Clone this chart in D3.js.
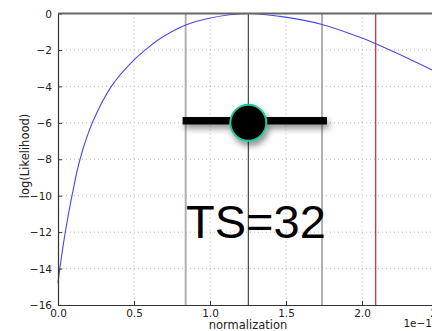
<!DOCTYPE html>
<html><head><meta charset="utf-8">
<script src="https://cdn.jsdelivr.net/npm/d3@7"></script>
<style>body{margin:0;background:#fff;}svg{display:block;}</style>
</head><body>
<script>
// Data
const normValues = [0, 0.012, 0.048, 0.092, 0.145, 0.226, 0.351, 0.5, 0.575, 0.658, 0.84, 0.987, 1.25, 1.46, 1.737, 2.0, 2.09, 2.3, 2.5];
const logLValues = [-14.8, -14, -12, -10, -8, -6, -4, -2.55, -2, -1.45, -0.63, -0.27, 0, -0.16, -0.6, -1.35, -1.66, -2.45, -3.25];
const xTicks = [0, 0.5, 1.0, 1.5, 2.0, 2.5];
const xTickLabels = ["0.0", "0.5", "1.0", "1.5", "2.0", "2.5"];
const yTicks = [0, -2, -4, -6, -8, -10, -12, -14, -16];
const bestFit = [1.252];
const sigmaLines = [0.84, 1.737];
const upperLimit = [2.09];
const pointX = [1.252];
const pointY = [-6];
const errLow = [0.82];
const errHigh = [1.77];
const tsLabel = "TS=32";

const W = 432, H = 331;
const svg = d3.select("body").append("svg").attr("width", W).attr("height", H);
const defs = svg.append("defs");
const f = defs.append("filter").attr("id","sh").attr("x","-30%").attr("y","-60%").attr("width","160%").attr("height","260%");
f.append("feDropShadow").attr("dx",2).attr("dy",4).attr("stdDeviation",3).attr("flood-color","#000").attr("flood-opacity",0.45);

const x = d3.scaleLinear().domain([0, 2.5]).range([58, 438]);
const y = d3.scaleLinear().domain([-16, 0]).range([305, 13.5]);
const font = "DejaVu Sans, sans-serif";

// grid
const g = svg.append("g");
g.selectAll(".vg").data(xTicks.slice(1)).enter().append("line")
  .attr("x1", d => x(d)).attr("x2", d => x(d)).attr("y1", y(0)).attr("y2", y(-16))
  .attr("stroke", "#b8b8b8").attr("stroke-width", 1).attr("stroke-dasharray", "1,3");
g.selectAll(".hg").data(yTicks.slice(1, -1)).enter().append("line")
  .attr("x1", x(0)).attr("x2", W).attr("y1", d => y(d)).attr("y2", d => y(d))
  .attr("stroke", "#b8b8b8").attr("stroke-width", 1).attr("stroke-dasharray", "1,3");

// vertical lines
svg.selectAll(".sig").data(sigmaLines).enter().append("line")
  .attr("x1", d => x(d)).attr("x2", d => x(d)).attr("y1", y(0)).attr("y2", y(-16))
  .attr("stroke", "#b0b0b0").attr("stroke-width", 2);
svg.selectAll(".bf").data(bestFit).enter().append("line")
  .attr("x1", d => x(d)).attr("x2", d => x(d)).attr("y1", y(0)).attr("y2", y(-16))
  .attr("stroke", "#222").attr("stroke-width", 1);
svg.selectAll(".ul").data(upperLimit).enter().append("line")
  .attr("x1", d => x(d)).attr("x2", d => x(d)).attr("y1", y(0)).attr("y2", y(-16))
  .attr("stroke", "#e03030").attr("stroke-width", 1.3);

// curve
const pts = normValues.map((v, i) => [v, logLValues[i]]);
svg.append("path").datum(pts)
  .attr("d", d3.line().x(d => x(d[0])).y(d => y(d[1])).curve(d3.curveCatmullRom.alpha(0.5)))
  .attr("fill", "none").attr("stroke", "#4a4ae8").attr("stroke-width", 1.1);

// axes
const xAxis = d3.axisBottom(x).tickValues(xTicks).tickFormat((d, i) => xTickLabels[i]).tickSizeInner(-4).tickSizeOuter(0).tickPadding(6);
const xa = svg.append("g").attr("transform", `translate(0,${y(-16)})`).call(xAxis);
const yAxis = d3.axisLeft(y).tickValues(yTicks).tickFormat(d => d === 0 ? "0" : "\u2212" + Math.abs(d)).tickSizeInner(-4).tickSizeOuter(0).tickPadding(6);
const ya = svg.append("g").attr("transform", `translate(${x(0)},0)`).call(yAxis);
[xa, ya].forEach(a => {
  a.select(".domain").attr("stroke", "#333").attr("stroke-width", 1.2);
  a.selectAll(".tick line").attr("stroke", "#333");
  a.selectAll("text").attr("font-family", font).attr("font-size", 10.5).attr("fill", "#222");
});
ya.selectAll(".tick text").attr("dy", "0.35em");
xa.selectAll(".tick text").attr("dy", "0.6em");
// top spine
svg.append("line").attr("x1", x(0)).attr("x2", W).attr("y1", y(0)).attr("y2", y(0))
  .attr("stroke", "#666").attr("stroke-width", 2);

// labels
svg.append("text").attr("x", 248).attr("y", 329).attr("text-anchor", "middle")
  .attr("font-family", font).attr("font-size", 11.5).attr("fill", "#222").text("normalization");
svg.append("text").attr("transform", "translate(29,156) rotate(-90)").attr("text-anchor", "middle")
  .attr("font-family", font).attr("font-size", 11.5).attr("fill", "#222").text("log(Likelihood)");
svg.append("text").attr("x", 432).attr("y", 327).attr("text-anchor", "end")
  .attr("font-family", font).attr("font-size", 10.5).attr("fill", "#222").text("1e\u22121");

// error bar + point
const pg = svg.append("g").attr("filter", "url(#sh)");
pg.selectAll(".eb").data(pointX).enter().append("line")
  .attr("x1", (d, i) => x(errLow[i])).attr("x2", (d, i) => x(errHigh[i]))
  .attr("y1", (d, i) => y(pointY[i]) - 2).attr("y2", (d, i) => y(pointY[i]) - 2)
  .attr("stroke", "#000").attr("stroke-width", 7.5);
pg.selectAll(".pt").data(pointX).enter().append("circle")
  .attr("cx", d => x(d)).attr("cy", (d, i) => y(pointY[i]))
  .attr("r", 18).attr("fill", "#000").attr("stroke", "#1ec8a0").attr("stroke-width", 2);

// TS label
svg.append("text").attr("x", 186).attr("y", 238)
  .attr("font-family", "Liberation Sans, Arial, sans-serif").attr("font-size", 47).attr("fill", "#000").text(tsLabel);
</script>
</body></html>
